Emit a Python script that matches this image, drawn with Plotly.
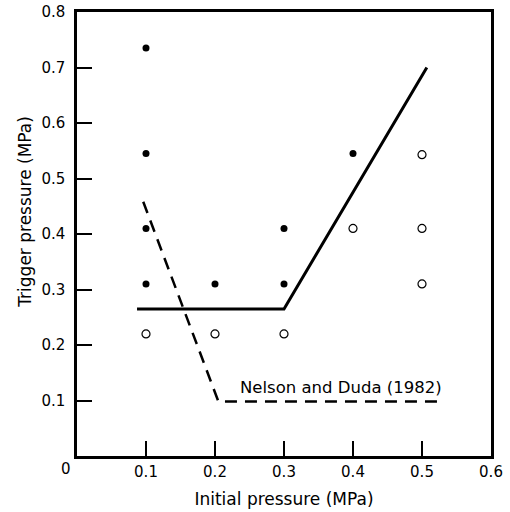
import plotly.graph_objects as go

# Data
filled_x = [0.1, 0.1, 0.1, 0.1, 0.2, 0.3, 0.3, 0.4]
filled_y = [0.735, 0.545, 0.41, 0.31, 0.31, 0.41, 0.31, 0.545]
open_x = [0.1, 0.2, 0.3, 0.4, 0.5, 0.5, 0.5]
open_y = [0.22, 0.22, 0.22, 0.41, 0.543, 0.41, 0.31]
solid_x = [0.087, 0.3, 0.507]
solid_y = [0.265, 0.265, 0.70]
dash_x = [0.096, 0.205, 0.53]
dash_y = [0.458, 0.098, 0.098]
x_ticks = [0.1, 0.2, 0.3, 0.4, 0.5, 0.6]
y_ticks = [0.1, 0.2, 0.3, 0.4, 0.5, 0.6, 0.7, 0.8]
label_text = "Nelson and Duda (1982)"
x_title = "Initial pressure (MPa)"
y_title = "Trigger pressure (MPa)"

FONT = "DejaVu Sans"

fig = go.Figure()
fig.add_trace(go.Scatter(x=solid_x, y=solid_y, mode="lines",
                         line=dict(color="black", width=3), showlegend=False))
fig.add_trace(go.Scatter(x=dash_x, y=dash_y, mode="lines",
                         line=dict(color="black", width=2.5, dash="12px,8px"), showlegend=False))
fig.add_trace(go.Scatter(x=filled_x, y=filled_y, mode="markers",
                         marker=dict(symbol="circle", size=7, color="black"), showlegend=False))
fig.add_trace(go.Scatter(x=open_x, y=open_y, mode="markers",
                         marker=dict(symbol="circle-open", size=8, color="black", line=dict(width=1.2)),
                         showlegend=False))

fig.add_annotation(x=0.383, y=0.124, text=label_text, showarrow=False,
                   font=dict(family=FONT, size=16.5, color="black"))
fig.add_annotation(x=0, y=0, xref="x", yref="paper", text="0", showarrow=False,
                   xanchor="center", yanchor="middle",
                   yshift=-13, xshift=-11, font=dict(family=FONT, size=15, color="black"))
fig.add_annotation(x=0, y=0.44, xref="paper", yref="y", text=y_title, showarrow=False,
                   textangle=-90, xanchor="center", yanchor="middle", xshift=-52,
                   font=dict(family=FONT, size=17, color="black"))

fig.update_layout(
    width=510, height=512,
    margin=dict(l=77, r=19, t=12, b=56, autoexpand=False),
    paper_bgcolor="white", plot_bgcolor="white",
    font=dict(family=FONT, size=15, color="black"),
)
fig.update_xaxes(range=[0, 0.6], tickvals=x_ticks, ticktext=[f"{v:.1f}" for v in x_ticks],
                 ticks="inside", ticklen=15, tickwidth=1.5, tickcolor="black",
                 showline=True, linecolor="black", linewidth=2.5, mirror=True,
                 showgrid=False, zeroline=False, ticklabelstandoff=0, automargin=False,
                 tickfont=dict(family=FONT, size=15),
                 title=dict(text=x_title, font=dict(family=FONT, size=17), standoff=14))
fig.update_yaxes(range=[0, 0.8], tickvals=y_ticks, ticktext=[f"{v:.1f}" for v in y_ticks],
                 ticks="inside", ticklen=15, tickwidth=1.5, tickcolor="black",
                 showline=True, linecolor="black", linewidth=2.5, mirror=True,
                 showgrid=False, zeroline=False, ticklabelstandoff=6, automargin=False,
                 tickfont=dict(family=FONT, size=15))

fig.write_html("out.html", config={"displayModeBar": False},
               post_script="document.body.style.margin='0';")
